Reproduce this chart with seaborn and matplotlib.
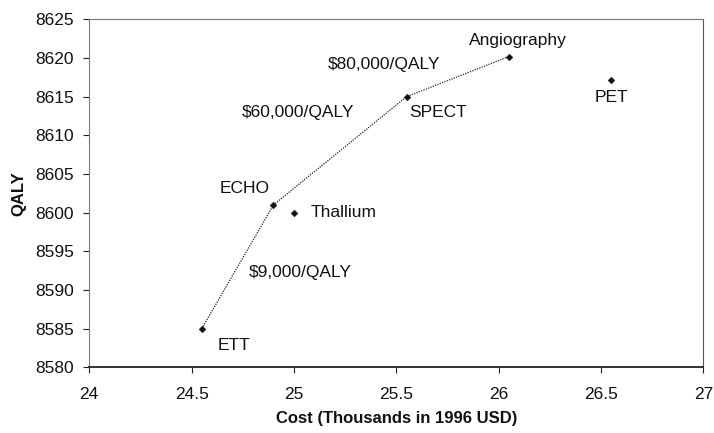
import matplotlib
matplotlib.use("Agg")
import matplotlib.pyplot as plt
import seaborn as sns
import pandas as pd

# Cost-effectiveness of diagnostic strategies
strategies = ["ETT", "ECHO", "Thallium", "SPECT", "Angiography", "PET"]
cost = [24.55, 24.90, 25.00, 25.55, 26.05, 26.55]
qaly = [8585, 8601, 8600, 8615, 8620.2, 8617.2]

# Efficient frontier
frontier = ["ETT", "ECHO", "SPECT", "Angiography"]

# Incremental cost-effectiveness ratio labels (text, x, y)
icer_text = ["$9,000/QALY", "$60,000/QALY", "$80,000/QALY"]
icer_x = [25.03, 25.02, 25.44]
icer_y = [8592.2, 8612.9, 8619.2]

df = pd.DataFrame({"strategy": strategies, "cost": cost, "qaly": qaly})
front = df.set_index("strategy").loc[frontier].reset_index()

sns.set_theme(style="white")
plt.rcParams["font.family"] = ["Liberation Sans", "DejaVu Sans"]

fig, ax = plt.subplots(figsize=(7.14, 4.33), dpi=100)
fig.subplots_adjust(left=0.125, right=0.985, top=0.955, bottom=0.152)

sns.lineplot(data=front, x="cost", y="qaly", ax=ax, color="#222222",
             linestyle=(0, (1, 1)), linewidth=0.9, sort=False)
sns.scatterplot(data=df, x="cost", y="qaly", ax=ax, color="#111111",
                marker="D", s=12, edgecolor="#111111", linewidth=0.3, zorder=3)

FS = 12.5

# Point labels: offsets in points
offsets = {
    "ETT": (23, -12, "center"),
    "ECHO": (-21, 11.5, "center"),
    "Thallium": (12, 0, "left"),
    "SPECT": (23, -11, "center"),
    "Angiography": (6.5, 11.5, "center"),
    "PET": (0, -13, "center"),
}
for s, x, y in zip(strategies, cost, qaly):
    dx, dy, ha = offsets[s]
    ax.annotate(s, (x, y), xytext=(dx, dy), textcoords="offset points",
                ha=ha, va="center", fontsize=FS, color="#111111")

for t, x, y in zip(icer_text, icer_x, icer_y):
    ax.text(x, y, t, ha="center", va="center", fontsize=FS, color="#111111")

ax.set_xlim(24, 27)
ax.set_ylim(8580, 8625)
ax.set_xticks([24, 24.5, 25, 25.5, 26, 26.5, 27])
ax.set_xticklabels(["24", "24.5", "25", "25.5", "26", "26.5", "27"])
ax.set_yticks(range(8580, 8626, 5))

ax.set_xlabel("Cost (Thousands in 1996 USD)", fontsize=12, fontweight="bold",
              labelpad=7, color="#111111")
ax.set_ylabel("QALY", fontsize=12, fontweight="bold", labelpad=6, color="#111111")

ax.tick_params(axis="both", which="both", direction="out", length=4, width=0.8,
               colors="#222222", labelsize=FS, labelcolor="#111111", pad=7)
ax.tick_params(axis="x", bottom=True, pad=10)
ax.tick_params(axis="y", left=True)

for side in ["top", "left"]:
    ax.spines[side].set_color("#777777")
    ax.spines[side].set_linestyle((0, (2, 1)))
    ax.spines[side].set_linewidth(0.8)
ax.spines["right"].set_color("#555555")
ax.spines["right"].set_linewidth(0.8)
ax.spines["bottom"].set_color("#222222")
ax.spines["bottom"].set_linewidth(1.3)

fig.savefig("out.png", dpi=100, facecolor="white")
